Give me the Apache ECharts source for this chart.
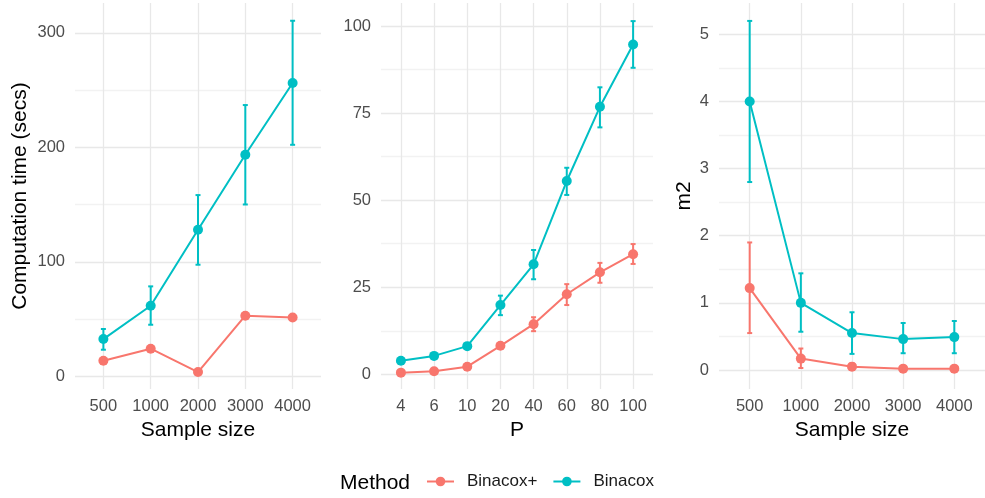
<!DOCTYPE html>
<html>
<head>
<meta charset="utf-8">
<script src="https://cdn.jsdelivr.net/npm/echarts@6/dist/echarts.min.js"></script>
<style>
  html, body { margin: 0; padding: 0; background: #fff; }
  #chart { width: 985px; height: 498px; }
</style>
</head>
<body>
<div id="chart"></div>
<script>
// categories
const sizeCats = ['500', '1000', '2000', '3000', '4000']
const pCats = ['4', '6', '10', '20', '40', '60', '80', '100']

// panel 1: computation time vs sample size
const timePlus = [13.7, 24.2, 3.8, 53.0, 51.5]
const timePlusLo = [12.5, 23.0, 2.8, 51.8, 50.2]
const timePlusHi = [15.0, 25.4, 4.8, 54.2, 52.8]
const timeBin = [32.6, 61.7, 128.0, 193.5, 256.1]
const timeBinLo = [23.3, 45.1, 97.5, 150.1, 202.2]
const timeBinHi = [41.4, 78.6, 158.3, 236.9, 310.5]

// panel 2: computation time vs P
const pPlus = [0.5, 0.9, 2.2, 8.2, 14.4, 23.0, 29.3, 34.5]
const pPlusLo = [0.2, 0.6, 1.8, 7.4, 12.4, 19.9, 26.3, 31.7]
const pPlusHi = [0.8, 1.2, 2.6, 9.0, 16.4, 25.9, 32.0, 37.4]
const pBin = [3.9, 5.3, 8.1, 19.9, 31.6, 55.5, 76.8, 94.7]
const pBinLo = [3.5, 4.9, 7.4, 17.0, 27.3, 51.5, 70.9, 88.0]
const pBinHi = [4.3, 5.7, 8.8, 22.6, 35.7, 59.3, 82.4, 101.4]

// panel 3: m2 vs sample size
const m2Plus = [1.22, 0.17, 0.05, 0.02, 0.02]
const m2PlusLo = [0.55, 0.03, 0.0, -0.01, -0.02]
const m2PlusHi = [1.90, 0.32, 0.10, 0.05, 0.06]
const m2Bin = [4.0, 1.0, 0.55, 0.46, 0.49]
const m2BinLo = [2.8, 0.57, 0.24, 0.25, 0.25]
const m2BinHi = [5.2, 1.44, 0.86, 0.70, 0.73]

// tick labels
const timeTicks = [0, 100, 200, 300]
const timeGrid = [0, 50, 100, 150, 200, 250, 300]
const pTicks = [0, 25, 50, 75, 100]
const pGrid = [0, 12.5, 25, 37.5, 50, 62.5, 75, 87.5, 100]
const m2Ticks = [0, 1, 2, 3, 4, 5]
const m2Grid = [0, 0.5, 1, 1.5, 2, 2.5, 3, 3.5, 4, 4.5, 5]

const RED = '#F8766D'
const TEAL = '#00BFC4'
const FONT = 'Liberation Sans'
const GRID_COLORS = ['#e8e8e8', '#f2f2f2']

const chart = echarts.init(document.getElementById('chart'))

const pts = (vals) => vals.map((v, i) => [i, v])
const bars = (lo, hi) => lo.map((l, i) => [i, l, hi[i]])

const xAxisFor = (cats, gridIndex, name) => ({
  type: 'value',
  gridIndex,
  min: -0.6,
  max: cats.length - 1 + 0.6,
  name,
  nameLocation: 'middle',
  nameGap: 30,
  nameTextStyle: { color: '#000', fontSize: 21, fontFamily: FONT },
  axisLine: { show: false },
  axisTick: { show: false, customValues: cats.map((c, i) => i) },
  axisLabel: {
    customValues: cats.map((c, i) => i),
    formatter: (v) => cats[Math.round(v)],
    color: '#4d4d4d',
    fontSize: 16.5,
    fontFamily: FONT,
    margin: 9
  },
  splitLine: { show: true, lineStyle: { color: '#e8e8e8', width: 1.3 } }
})

const yAxisFor = (gridIndex, min, max, ticks, lines, name, nameGap) => ({
  type: 'value',
  gridIndex,
  min,
  max,
  name,
  nameLocation: 'middle',
  nameGap,
  nameTextStyle: { color: '#000', fontSize: 21, fontFamily: FONT },
  axisLine: { show: false },
  axisTick: { show: false, customValues: lines },
  axisLabel: {
    customValues: ticks,
    color: '#4d4d4d',
    fontSize: 16.5,
    fontFamily: FONT,
    margin: 10
  },
  splitLine: { show: true, lineStyle: { color: GRID_COLORS, width: 1.3 } }
})

const lineSeries = (name, color, data, idx) => ({
  name,
  type: 'line',
  xAxisIndex: idx,
  yAxisIndex: idx,
  data,
  symbol: 'circle',
  symbolSize: 10,
  lineStyle: { color, width: 2 },
  itemStyle: { color },
  z: 3
})

const errSeries = (name, color, data, idx) => ({
  name,
  type: 'custom',
  xAxisIndex: idx,
  yAxisIndex: idx,
  data,
  z: 4,
  renderItem: (params, api) => {
    const top = api.coord([api.value(0), api.value(2)])
    const bot = api.coord([api.value(0), api.value(1)])
    const w = 2.5
    const style = { stroke: color, lineWidth: 2 }
    return {
      type: 'group',
      children: [
        { type: 'line', shape: { x1: top[0], y1: top[1], x2: bot[0], y2: bot[1] }, style },
        { type: 'line', shape: { x1: top[0] - w, y1: top[1], x2: top[0] + w, y2: top[1] }, style },
        { type: 'line', shape: { x1: bot[0] - w, y1: bot[1], x2: bot[0] + w, y2: bot[1] }, style }
      ]
    }
  }
})

const option = {
  backgroundColor: '#ffffff',
  animation: false,
  textStyle: { fontFamily: FONT },
  grid: [
    { left: 75, width: 246, top: 3, height: 386 },
    { left: 381, width: 272, top: 3, height: 386 },
    { left: 719, width: 266, top: 3, height: 386 }
  ],
  xAxis: [
    xAxisFor(sizeCats, 0, 'Sample size'),
    xAxisFor(pCats, 1, 'P'),
    xAxisFor(sizeCats, 2, 'Sample size')
  ],
  yAxis: [
    yAxisFor(0, -11, 326, timeTicks, timeGrid, 'Computation time (secs)', 44),
    yAxisFor(1, -4.2, 106.6, pTicks, pGrid, '', 30),
    yAxisFor(2, -0.283, 5.467, m2Ticks, m2Grid, 'm2', 24)
  ],
  legend: {
    data: ['Binacox+', 'Binacox'],
    left: 421,
    top: 468,
    itemWidth: 27,
    itemHeight: 12,
    itemGap: 15,
    textStyle: { color: '#1a1a1a', fontSize: 17, fontFamily: FONT, padding: [0, 0, 0, 8] }
  },
  graphic: [
    {
      type: 'text',
      left: 340,
      top: 473,
      style: { text: 'Method', fill: '#000', font: '21px "Liberation Sans"' }
    }
  ],
  series: [
    lineSeries('Binacox+', RED, pts(timePlus), 0),
    errSeries('err+', RED, bars(timePlusLo, timePlusHi), 0),
    lineSeries('Binacox', TEAL, pts(timeBin), 0),
    errSeries('err', TEAL, bars(timeBinLo, timeBinHi), 0),

    lineSeries('Binacox+', RED, pts(pPlus), 1),
    errSeries('err+', RED, bars(pPlusLo, pPlusHi), 1),
    lineSeries('Binacox', TEAL, pts(pBin), 1),
    errSeries('err', TEAL, bars(pBinLo, pBinHi), 1),

    lineSeries('Binacox+', RED, pts(m2Plus), 2),
    errSeries('err+', RED, bars(m2PlusLo, m2PlusHi), 2),
    lineSeries('Binacox', TEAL, pts(m2Bin), 2),
    errSeries('err', TEAL, bars(m2BinLo, m2BinHi), 2)
  ]
}

chart.setOption(option)
</script>
</body>
</html>
